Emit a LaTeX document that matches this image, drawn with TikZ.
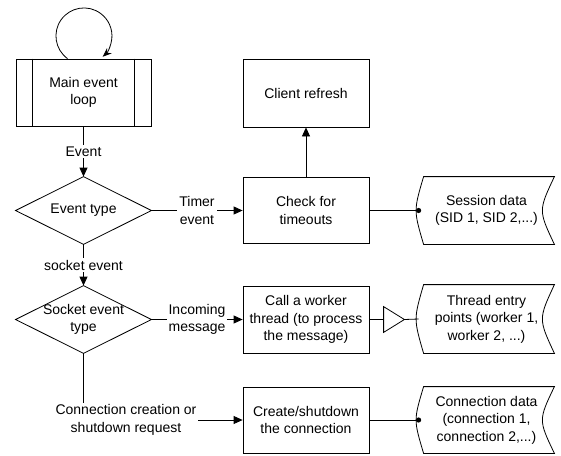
\documentclass[tikz,border=0pt]{standalone}
\usepackage{fontspec}
\setmainfont{Liberation Sans}
\usetikzlibrary{arrows.meta}
\newcommand\datashape[1]{%
  \draw ([xshift=5pt]#1.north west) -- (#1.north east)
    .. controls ([xshift=-16pt]#1.east) .. (#1.south east)
    -- ([xshift=5pt]#1.south west)
    .. controls ([xshift=-5pt]#1.west) .. ([xshift=5pt]#1.north west) -- cycle;}
\newcommand\diamondshape[1]{%
  \draw (#1.north) -- (#1.east) -- (#1.south) -- (#1.west) -- cycle;}
\begin{document}
\begin{tikzpicture}[x=1pt,y=1pt,line width=0.8pt,
  every node/.style={font=\fontsize{14}{17.5}\selectfont, align=center, inner sep=0pt},
  box/.style={draw, minimum width=126pt, minimum height=67pt},
  frame/.style={minimum width=135pt, minimum height=67pt},
  lbl/.style={fill=white, inner sep=2pt},
  arr/.style={-{Triangle[length=9pt,width=8pt]}},
  looparr/.style={-{Stealth[length=9pt,width=7pt]}}]
\useasboundingbox (0,0) rectangle (561,-455);

% nodes
\node[draw, frame] (main) at (83.5,-92.5) {Main event\\loop};
\draw ([xshift=17pt]main.north west) -- ([xshift=17pt]main.south west);
\draw ([xshift=-17pt]main.north east) -- ([xshift=-17pt]main.south east);

\node[frame] (d1) at (83.5,-210.5) {Event type};
\diamondshape{d1}
\node[frame] (d2) at (83.5,-319.5) {Socket event\\type};
\diamondshape{d2}

\node[box, minimum height=68pt] (client) at (306,-93) {Client refresh};
\node[box, minimum height=66pt] (check) at (306,-210.5) {Check for\\timeouts};
\node[box] (call) at (306,-319.5) {Call a worker\\thread (to process\\the message)};
\node[box, minimum height=66pt] (create) at (306,-420) {Create/shutdown\\the connection};

\node[frame] (session) at (486.5,-210.5) {Session data\\(SID 1, SID 2,...)};
\datashape{session}
\node[frame, minimum height=68pt] (thread) at (486.5,-319) {Thread entry\\points (worker 1,\\worker 2, ...)};
\datashape{thread}
\node[frame, minimum height=66pt] (conn) at (486.5,-420) {Connection data\\(connection 1,\\connection 2,...)};
\datashape{conn}

\node[minimum width=20pt, minimum height=25pt] (tri) at (394,-319.5) {};
\draw (tri.north west) -- (tri.east) -- (tri.south west) -- cycle;

% connectors
\draw[looparr] ([xshift=-16pt]main.north) arc[start angle=234, end angle=-48, radius=28pt];
\draw[arr] (main.south) -- node[lbl] (lev) {Event} (d1.north);
\draw[arr] (d1.east) -- node[lbl] (ltimer) {Timer\\event} (check.west);
\draw[arr] (check.north) -- (client.south);
\draw (check.east) -- (session.west);
\fill (session.west) circle[radius=2.6pt];
\draw[arr] (d1.south) -- node[lbl] (lsock) {socket event} (d2.north);
\draw[arr] (d2.east) -- node[lbl] (linc) {Incoming\\message} (call.west);
\draw (call.east) -- (tri.west);
\draw (tri.east) -- (thread.west);
\draw[arr] (d2.south) |- (create.west);
\node[lbl] (lconn) at (126,-420) {Connection creation or\\shutdown request};
\draw (create.east) -- (conn.west);
\fill (conn.west) circle[radius=2.6pt];
\end{tikzpicture}
\end{document}
